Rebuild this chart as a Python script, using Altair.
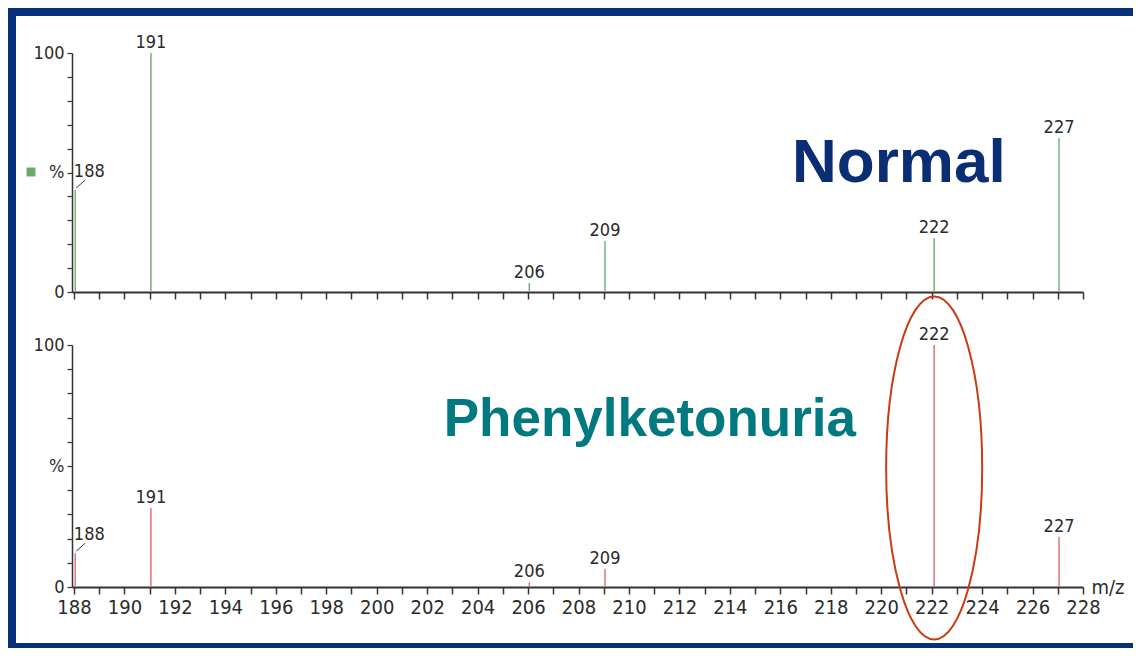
import altair as alt
import pandas as pd

# ---- data ----
MZ_POS = [188.05, 191.05, 206.05, 209.05, 222.1, 227.05]
PEAK_LABELS = ["188", "191", "206", "209", "222", "227"]
NORMAL = [42.7, 100.0, 3.8, 21.3, 22.6, 64.4]
PKU = [14.0, 32.6, 2.0, 7.4, 100.0, 20.7]

X_TICKS = list(range(188, 229))
Y_TICKS = list(range(0, 101, 10))
X_DOMAIN = [187.92, 228.0]

PANEL_TITLES = ["Normal", "Phenylketonuria"]
TITLE_POS = [(220.7, 46.0), (210.83, 62.4)]
ELLIPSE_POS = (222.1, 49.2)

FONT = "Liberation Sans Narrow, DejaVu Sans Condensed, Liberation Sans, Arial"
TXT = "#2b2b2b"
AX = "#333333"
W = 1011


def peaks_df(vals):
    return pd.DataFrame({"mz": MZ_POS, "pct": vals, "label": PEAK_LABELS})


def panel(vals, color, height, bottom, title, title_pos, title_color, title_size):
    df = peaks_df(vals)
    base = alt.Chart(df)
    if bottom:
        xaxis = alt.Axis(values=X_TICKS, tickCount=len(X_TICKS) + 5,
                         labelExpr="datum.value % 2 == 0 ? datum.label : ''",
                         labelFont=FONT, labelFontSize=20, labelColor=TXT, labelPadding=3,
                         labelOverlap=False, labelFlush=False, tickSize=7, tickWidth=1.5,
                         tickColor=AX, domainColor=AX, domainWidth=2, grid=False,
                         title="m/z", titleX=1019, titleY=6, titleAlign="left",
                         titleBaseline="alphabetic", titleFont=FONT, titleFontSize=20,
                         titleFontWeight="normal", titleColor=TXT)
    else:
        xaxis = alt.Axis(values=X_TICKS, tickCount=len(X_TICKS) + 5, labels=False,
                         tickSize=7, tickWidth=1.5,
                         tickColor=AX, domainColor=AX, domainWidth=2, grid=False, title=None)
    yaxis = alt.Axis(values=Y_TICKS, tickCount=len(Y_TICKS) + 5,
                     labelExpr="datum.value == 0 ? '0' : datum.value == 50 ? '%' : datum.value == 100 ? '100' : ''",
                     labelFont=FONT, labelFontSize=18, labelColor=TXT, labelPadding=3,
                     labelOverlap=False, labelFlush=False, tickSize=5, tickWidth=1.2,
                     tickColor=AX, domainColor=AX, domainWidth=1.5, grid=False, title=None)

    rules = base.mark_rule(color=color, strokeWidth=1.5).encode(
        x=alt.X("mz:Q", scale=alt.Scale(domain=X_DOMAIN, nice=False, zero=False), axis=xaxis),
        y=alt.Y("pct:Q", scale=alt.Scale(domain=[0, 100], nice=False), axis=yaxis),
        y2=alt.datum(0),
    )
    labels = base.transform_filter("datum.mz > 189").mark_text(
        baseline="alphabetic", dy=-5, font=FONT, fontSize=18, color=TXT
    ).encode(x="mz:Q", y="pct:Q", text="label:N")
    first_label = base.transform_filter("datum.mz < 189").mark_text(
        baseline="alphabetic", dx=14, dy=-13, font=FONT, fontSize=18, color=TXT
    ).encode(x="mz:Q", y="pct:Q", text="label:N")
    leader = base.transform_filter("datum.mz < 189").mark_rule(
        xOffset=1, x2Offset=10, yOffset=-2, y2Offset=-10, color=AX, strokeWidth=1
    ).encode(x="mz:Q", x2="mz:Q", y="pct:Q", y2="pct:Q")

    tdf = pd.DataFrame({"mz": [title_pos[0]], "pct": [title_pos[1]], "t": [title]})
    title_mark = alt.Chart(tdf).mark_text(
        align="center", baseline="alphabetic", font="Liberation Sans, Arial",
        fontWeight="bold", fontSize=title_size, color=title_color
    ).encode(x="mz:Q", y="pct:Q", text="t:N")

    return [rules, labels, first_label, leader, title_mark], height


one = pd.DataFrame({"k": [0]})
FRAME = "#06307a"
frame_top = alt.Chart(one).mark_rect(color=FRAME).encode(
    x=alt.value(-64), x2=alt.value(1061), y=alt.value(-45), y2=alt.value(-37))
frame_left = alt.Chart(one).mark_rect(color=FRAME).encode(
    x=alt.value(-64), x2=alt.value(-56), y=alt.value(-45), y2=alt.value(595))
frame_bottom = alt.Chart(one).mark_rect(color=FRAME).encode(
    x=alt.value(-64), x2=alt.value(1061), y=alt.value(590), y2=alt.value(595))
swatch = alt.Chart(one).mark_point(shape="square", filled=True, size=80, color="#6aaa6a", opacity=1).encode(
    x=alt.value(-41), y=alt.value(119))

top_layers, top_h = panel(NORMAL, "#74b574", 239, False, PANEL_TITLES[0], TITLE_POS[0], "#0a2d74", 62)
bot_layers, bot_h = panel(PKU, "#e0737b", 242, True, PANEL_TITLES[1], TITLE_POS[1], "#007a80", 53)

edf = pd.DataFrame({"mz": [ELLIPSE_POS[0]], "pct": [ELLIPSE_POS[1]]})
ellipse = alt.Chart(edf).mark_point(
    shape="M0,-1 A0.28,1 0 1,1 0,1 A0.28,1 0 1,1 0,-1 Z",
    filled=False, size=(2 * 171.5) ** 2, color="#cc3a10", strokeWidth=2, opacity=1
).encode(x="mz:Q", y="pct:Q")

top = alt.layer(*top_layers, frame_top, frame_left, frame_bottom, swatch).properties(width=W, height=top_h)
bottom = alt.layer(*bot_layers, ellipse).properties(width=W, height=bot_h)

chart = alt.vconcat(top, bottom, spacing=53, bounds="flush").properties(
    padding={"left": 0, "top": 0, "right": 0, "bottom": 0}, background="white"
).configure_view(strokeWidth=0, stroke=None)

chart.save("out.html", embed_options={"renderer": "svg", "actions": False})
